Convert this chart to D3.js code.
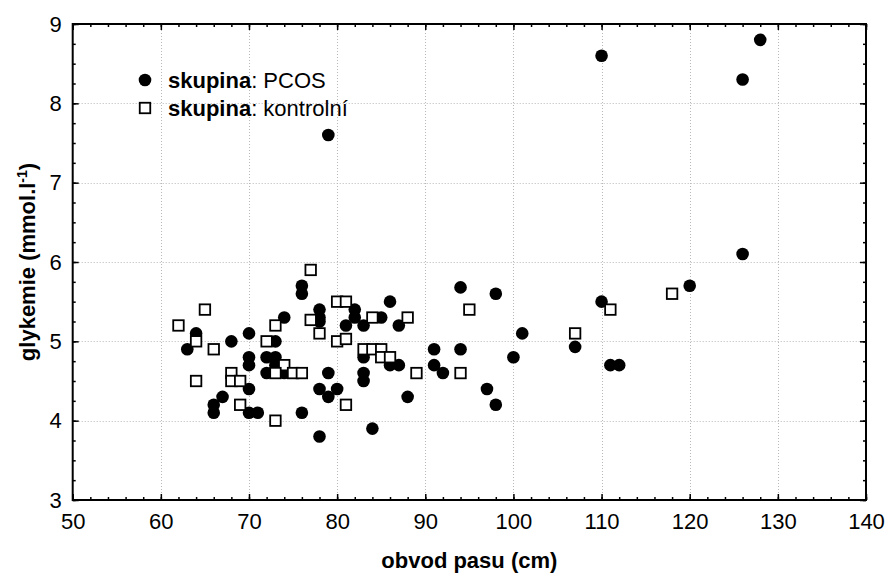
<!DOCTYPE html>
<html>
<head>
<meta charset="utf-8">
<script src="https://cdn.jsdelivr.net/npm/d3@7"></script>
<style>
  html, body { margin: 0; padding: 0; background: #fff; }
  svg { display: block; font-family: "Liberation Sans", Arial, sans-serif; }
</style>
</head>
<body>
<svg id="chart" width="887" height="576"></svg>
<script>
// Waist circumference (cm) and glycaemia (mmol/l) — PCOS group
const pcosWaist = [64, 63, 68, 70, 70, 70, 70, 67, 66, 66, 70, 71,
  76, 76, 86, 82, 78, 78, 78, 74, 82, 85, 81, 83, 87, 73,
  91, 83, 86, 87, 72, 73, 73, 72, 74, 79, 83, 83, 78, 80, 79, 88, 76, 84, 78,
  94, 98, 101, 107, 110, 111, 112, 94, 91, 92, 100, 97, 98,
  110, 128, 126, 126, 120, 79];
const pcosGlucose = [5.1, 4.9, 5.0, 5.1, 4.8, 4.7, 4.4, 4.3, 4.2, 4.1, 4.1, 4.1,
  5.7, 5.6, 5.5, 5.4, 5.4, 5.3, 5.25, 5.3, 5.3, 5.3, 5.2, 5.2, 5.2, 5.0,
  4.9, 4.8, 4.7, 4.7, 4.8, 4.8, 4.7, 4.6, 4.6, 4.6, 4.6, 4.5, 4.4, 4.4, 4.3, 4.3, 4.1, 3.9, 3.8,
  5.68, 5.6, 5.1, 4.93, 5.5, 4.7, 4.7, 4.9, 4.7, 4.6, 4.8, 4.4, 4.2,
  8.6, 8.8, 8.3, 6.1, 5.7, 7.6];

// Control group
const controlWaist = [65, 62, 64, 66, 68, 64, 68, 69, 69,
  77, 80, 81, 77, 78, 84, 88, 73, 80, 81, 72, 83, 84, 85, 85, 86, 74, 73, 75, 76, 89, 81, 73,
  95, 107, 111, 94, 118];
const controlGlucose = [5.4, 5.2, 5.0, 4.9, 4.6, 4.5, 4.5, 4.5, 4.2,
  5.9, 5.5, 5.5, 5.27, 5.1, 5.3, 5.3, 5.2, 5.0, 5.03, 5.0, 4.9, 4.9, 4.9, 4.8, 4.8, 4.7, 4.6, 4.6, 4.6, 4.6, 4.2, 4.0,
  5.4, 5.1, 5.4, 4.6, 5.6];

const xTicks = [50, 60, 70, 80, 90, 100, 110, 120, 130, 140];
const yTicks = [3, 4, 5, 6, 7, 8, 9];
const legendLabels = ["PCOS", "kontrolní"];

const margin = { left: 72.7, right: 21, top: 24, bottom: 76 };
const W = 887, H = 576;
const svg = d3.select("#chart");

const x = d3.scaleLinear().domain([50, 140]).range([margin.left, W - margin.right]);
const y = d3.scaleLinear().domain([3, 9]).range([H - margin.bottom, margin.top]);
const x0 = x.range()[0], x1 = x.range()[1], y0 = y.range()[0], y1 = y.range()[1];

// Dotted grid at interior major ticks
const grid = svg.append("g").attr("stroke", "#b8b8b8").attr("stroke-width", 1)
  .attr("stroke-dasharray", "1,2");
grid.selectAll(".gx").data(xTicks.slice(1, -1)).join("line")
  .attr("x1", d => Math.round(x(d)) + 0.5).attr("x2", d => Math.round(x(d)) + 0.5)
  .attr("y1", y1).attr("y2", y0);
grid.selectAll(".gy").data(yTicks.slice(1, -1)).join("line")
  .attr("y1", d => Math.round(y(d)) + 0.5).attr("y2", d => Math.round(y(d)) + 0.5)
  .attr("x1", x0).attr("x2", x1);

// Inward ticks on all four sides: majors and minors
const xMinor = d3.range(50, 140.01, 2);
const yMinor = d3.range(3, 9.001, 0.25);
function styleAxis(g) {
  g.select(".domain").remove();
  g.selectAll(".tick line").attr("stroke", "#000").attr("stroke-width", 1.5);
  g.selectAll("text").attr("font-size", 22).attr("fill", "#000");
}
svg.append("g").attr("transform", `translate(0,${y0})`)
  .call(d3.axisBottom(x).tickValues(xMinor).tickSize(-3).tickFormat(""))
  .call(styleAxis);
svg.append("g").attr("transform", `translate(0,${y0})`)
  .call(d3.axisBottom(x).tickValues(xTicks).tickSize(-6).tickPadding(13).tickFormat(d3.format("d")))
  .call(styleAxis);
svg.append("g").attr("transform", `translate(0,${y1})`)
  .call(d3.axisTop(x).tickValues(xMinor).tickSize(-3).tickFormat(""))
  .call(styleAxis);
svg.append("g").attr("transform", `translate(0,${y1})`)
  .call(d3.axisTop(x).tickValues(xTicks).tickSize(-6).tickFormat(""))
  .call(styleAxis);
svg.append("g").attr("transform", `translate(${x0},0)`)
  .call(d3.axisLeft(y).tickValues(yMinor).tickSize(-3).tickFormat(""))
  .call(styleAxis);
svg.append("g").attr("transform", `translate(${x0},0)`)
  .call(d3.axisLeft(y).tickValues(yTicks).tickSize(-6).tickPadding(11).tickFormat(d3.format("d")))
  .call(styleAxis);
svg.append("g").attr("transform", `translate(${x1},0)`)
  .call(d3.axisRight(y).tickValues(yMinor).tickSize(-3).tickFormat(""))
  .call(styleAxis);
svg.append("g").attr("transform", `translate(${x1},0)`)
  .call(d3.axisRight(y).tickValues(yTicks).tickSize(-6).tickFormat(""))
  .call(styleAxis);

// Frame
svg.append("rect").attr("x", x0).attr("y", y1).attr("width", x1 - x0).attr("height", y0 - y1)
  .attr("fill", "none").attr("stroke", "#000").attr("stroke-width", 2);

// PCOS points (filled circles)
const pcos = pcosWaist.map((w, i) => ({ w, g: pcosGlucose[i] }));
const control = controlWaist.map((w, i) => ({ w, g: controlGlucose[i] }));
svg.append("g").selectAll("circle").data(pcos).join("circle")
  .attr("cx", d => x(d.w)).attr("cy", d => y(d.g)).attr("r", 6.3)
  .attr("fill", "#000");

// Control points (open squares)
const S = 10.5;
svg.append("g").selectAll("rect").data(control).join("rect")
  .attr("x", d => x(d.w) - S / 2).attr("y", d => y(d.g) - S / 2)
  .attr("width", S).attr("height", S)
  .attr("fill", "#fff").attr("stroke", "#000").attr("stroke-width", 1.8);

// Legend
const leg = svg.append("g").attr("font-size", 22);
leg.append("circle").attr("cx", 145).attr("cy", 80).attr("r", 6.3).attr("fill", "#000");
leg.append("rect").attr("x", 145 - S / 2).attr("y", 108 - S / 2).attr("width", S).attr("height", S)
  .attr("fill", "#fff").attr("stroke", "#000").attr("stroke-width", 1.8);
legendLabels.forEach((lab, i) => {
  const t = leg.append("text").attr("x", 168).attr("y", 80 + i * 28).attr("dy", "0.36em");
  t.append("tspan").attr("font-weight", "bold").text("skupina");
  t.append("tspan").text(": " + lab);
});

// Axis titles
svg.append("text").attr("x", (x0 + x1) / 2).attr("y", 560).attr("dy", "0.36em")
  .attr("text-anchor", "middle").attr("font-size", 22).attr("font-weight", "bold")
  .text("obvod pasu (cm)");
const yt = svg.append("text").attr("transform", "translate(27,262) rotate(-90)")
  .attr("text-anchor", "middle").attr("dy", "0.36em")
  .attr("font-size", 22).attr("font-weight", "bold");
yt.append("tspan").text("glykemie (mmol.l");
yt.append("tspan").attr("font-size", 14).attr("dy", "-0.6em").text("-1");
yt.append("tspan").attr("dy", "0.4em").text(")");
</script>
</body>
</html>
